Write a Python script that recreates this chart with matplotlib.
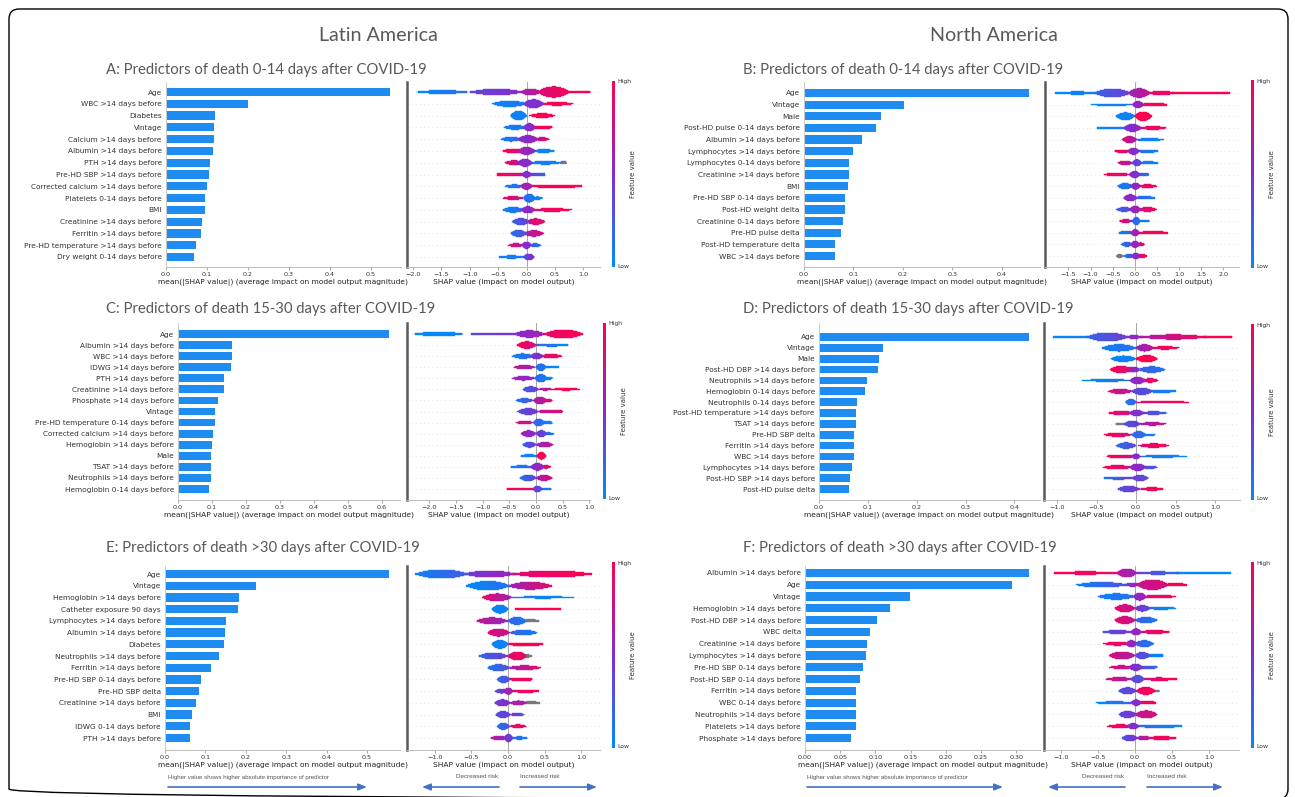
import numpy as np
import matplotlib
matplotlib.use("Agg")
import matplotlib.pyplot as plt
from matplotlib.colors import LinearSegmentedColormap
from matplotlib.collections import PolyCollection
from matplotlib.patches import FancyBboxPatch

# ---------------------------------------------------------------- data
# Mean |SHAP| importance per predictor, top to bottom.
A_features = ["Age", "WBC >14 days before", "Diabetes", "Vintage", "Calcium >14 days before",
              "Albumin >14 days before", "PTH >14 days before", "Pre-HD SBP >14 days before",
              "Corrected calcium >14 days before", "Platelets 0-14 days before", "BMI",
              "Creatinine >14 days before", "Ferritin >14 days before",
              "Pre-HD temperature >14 days before", "Dry weight 0-14 days before"]
A_importance = [0.546, 0.200, 0.120, 0.117, 0.117, 0.115, 0.107, 0.105, 0.099, 0.095, 0.095,
                0.087, 0.085, 0.073, 0.069]

B_features = ["Age", "Vintage", "Male", "Post-HD pulse 0-14 days before", "Albumin >14 days before",
              "Lymphocytes >14 days before", "Lymphocytes 0-14 days before",
              "Creatinine >14 days before", "BMI", "Pre-HD SBP 0-14 days before",
              "Post-HD weight delta", "Creatinine 0-14 days before", "Pre-HD pulse delta",
              "Post-HD temperature delta", "WBC >14 days before"]
B_importance = [0.455, 0.203, 0.155, 0.146, 0.118, 0.100, 0.092, 0.092, 0.090, 0.082, 0.082,
                0.079, 0.074, 0.063, 0.062]

C_features = ["Age", "Albumin >14 days before", "WBC >14 days before", "IDWG >14 days before",
              "PTH >14 days before", "Creatinine >14 days before", "Phosphate >14 days before",
              "Vintage", "Pre-HD temperature 0-14 days before", "Corrected calcium >14 days before",
              "Hemoglobin >14 days before", "Male", "TSAT >14 days before",
              "Neutrophils >14 days before", "Hemoglobin 0-14 days before"]
C_importance = [0.623, 0.160, 0.160, 0.156, 0.137, 0.135, 0.119, 0.110, 0.109, 0.103, 0.100,
                0.098, 0.096, 0.096, 0.090]

D_features = ["Age", "Vintage", "Male", "Post-HD DBP >14 days before", "Neutrophils >14 days before",
              "Hemoglobin 0-14 days before", "Neutrophils 0-14 days before",
              "Post-HD temperature >14 days before", "TSAT >14 days before", "Pre-HD SBP delta",
              "Ferritin >14 days before", "WBC >14 days before", "Lymphocytes >14 days before",
              "Post-HD SBP >14 days before", "Post-HD pulse delta"]
D_importance = [0.431, 0.131, 0.123, 0.121, 0.098, 0.094, 0.077, 0.075, 0.075, 0.072, 0.071,
                0.071, 0.067, 0.063, 0.061]

E_features = ["Age", "Vintage", "Hemoglobin >14 days before", "Catheter exposure 90 days",
              "Lymphocytes >14 days before", "Albumin >14 days before", "Diabetes",
              "Neutrophils >14 days before", "Ferritin >14 days before",
              "Pre-HD SBP 0-14 days before", "Pre-HD SBP delta", "Creatinine >14 days before",
              "BMI", "IDWG 0-14 days before", "PTH >14 days before"]
E_importance = [0.554, 0.225, 0.182, 0.181, 0.150, 0.148, 0.145, 0.134, 0.115, 0.089, 0.084,
                0.077, 0.066, 0.063, 0.061]

F_features = ["Albumin >14 days before", "Age", "Vintage", "Hemoglobin >14 days before",
              "Post-HD DBP >14 days before", "WBC delta", "Creatinine >14 days before",
              "Lymphocytes >14 days before", "Pre-HD SBP 0-14 days before",
              "Post-HD SBP 0-14 days before", "Ferritin >14 days before", "WBC 0-14 days before",
              "Neutrophils >14 days before", "Platelets >14 days before", "Phosphate >14 days before"]
F_importance = [0.318, 0.294, 0.149, 0.121, 0.103, 0.093, 0.088, 0.087, 0.082, 0.078, 0.072,
                0.072, 0.072, 0.072, 0.066]

# SHAP value distributions, one row per predictor: clusters of
# (shap_from, shap_to, feature_value_from, feature_value_to, density)
# feature value runs 0 (low) .. 1 (high); -1 marks missing values.
A_swarm = [
    [(-1.95, -1.0, 0.0, 0.15, 0.12), (-1.0, -0.05, 0.35, 0.5, 0.2), (-0.1, 0.25, 0.6, 0.75, 0.22), (0.2, 0.75, 0.85, 0.95, 0.35), (0.7, 1.12, 1.0, 1.0, 0.08)],
    [(-0.6, 0.0, 0.05, 0.1, 0.2), (-0.05, 0.3, 0.45, 0.5, 0.28), (0.25, 0.82, 0.95, 1.0, 0.12)],
    [(-0.28, 0.0, 0.05, 0.05, 0.3), (0.05, 0.5, 1.0, 1.0, 0.15)],
    [(-0.4, 0.0, 0.05, 0.15, 0.15), (-0.05, 0.15, 0.45, 0.55, 0.25), (0.12, 0.45, 0.9, 1.0, 0.1)],
    [(-0.45, -0.1, 0.05, 0.2, 0.15), (-0.15, 0.2, 0.45, 0.6, 0.25), (0.15, 0.4, 0.7, 0.9, 0.12)],
    [(-0.42, -0.05, 1.0, 0.85, 0.15), (-0.15, 0.15, 0.65, 0.5, 0.25), (0.1, 0.5, 0.1, 0.0, 0.12)],
    [(-0.38, -0.05, 0.9, 0.7, 0.15), (-0.15, 0.1, 0.55, 0.45, 0.25), (0.05, 0.62, 0.1, 0.05, 0.12), (0.6, 0.7, -1, -1, 0.1)],
    [(-0.52, -0.05, 1.0, 0.8, 0.1), (-0.08, 0.08, 0.5, 0.5, 0.2), (0.05, 0.32, 0.4, 0.2, 0.1)],
    [(-0.38, -0.05, 0.05, 0.2, 0.12), (-0.1, 0.1, 0.6, 0.6, 0.22), (0.08, 0.97, 0.95, 1.0, 0.1)],
    [(-0.42, -0.05, 0.95, 0.7, 0.12), (-0.05, 0.15, 0.15, 0.1, 0.28), (0.1, 0.28, 0.05, 0.0, 0.1)],
    [(-0.42, -0.05, 0.05, 0.15, 0.18), (-0.1, 0.15, 0.5, 0.55, 0.22), (0.1, 0.8, 0.9, 1.0, 0.12)],
    [(-0.25, 0.05, 0.2, 0.4, 0.22), (0.0, 0.32, 0.8, 0.9, 0.2)],
    [(-0.28, 0.0, 0.15, 0.3, 0.22), (-0.05, 0.3, 0.6, 0.85, 0.2)],
    [(-0.32, -0.05, 0.9, 0.7, 0.12), (-0.08, 0.08, 0.5, 0.5, 0.22), (0.05, 0.25, 0.3, 0.1, 0.12)],
    [(-0.48, -0.05, 0.05, 0.1, 0.1), (-0.05, 0.13, 0.3, 0.5, 0.22)],
]

B_swarm = [
    [(-1.8, -0.8, 0.0, 0.1, 0.1), (-0.9, -0.1, 0.2, 0.4, 0.28), (-0.15, 0.35, 0.55, 0.75, 0.3), (0.3, 0.9, 0.9, 0.95, 0.15), (0.85, 2.15, 1.0, 1.0, 0.07)],
    [(-1.0, -0.05, 0.0, 0.1, 0.07), (-0.05, 0.2, 0.5, 0.6, 0.22), (0.15, 0.72, 0.9, 1.0, 0.1)],
    [(-0.42, 0.0, 0.05, 0.05, 0.25), (0.0, 0.38, 1.0, 1.0, 0.3)],
    [(-0.85, -0.1, 0.0, 0.15, 0.08), (-0.25, 0.15, 0.4, 0.6, 0.25), (0.1, 0.72, 0.85, 1.0, 0.12)],
    [(-0.28, 0.05, 0.85, 0.65, 0.22), (0.0, 0.66, 0.1, 0.0, 0.08)],
    [(-0.45, -0.1, 1.0, 0.85, 0.1), (-0.15, 0.1, 0.55, 0.5, 0.22), (0.05, 0.52, 0.2, 0.05, 0.1)],
    [(-0.38, -0.05, 0.8, 0.7, 0.15), (-0.05, 0.15, 0.4, 0.35, 0.22), (0.1, 0.52, 0.1, 0.05, 0.1)],
    [(-0.7, -0.1, 1.0, 0.85, 0.12), (-0.12, 0.12, 0.5, 0.45, 0.22), (0.08, 0.32, 0.3, 0.1, 0.1)],
    [(-0.38, -0.05, 0.05, 0.15, 0.2), (-0.08, 0.12, 0.5, 0.6, 0.22), (0.08, 0.5, 0.85, 1.0, 0.12)],
    [(-0.25, 0.05, 0.55, 0.5, 0.22), (0.0, 0.45, 0.25, 0.05, 0.1)],
    [(-0.42, -0.05, 0.2, 0.35, 0.15), (-0.1, 0.12, 0.55, 0.6, 0.25), (0.08, 0.5, 0.8, 0.95, 0.15)],
    [(-0.35, -0.05, 0.95, 0.7, 0.12), (-0.05, 0.12, 0.2, 0.15, 0.25), (0.08, 0.33, 0.15, 0.05, 0.08)],
    [(-0.35, -0.05, 0.05, 0.2, 0.1), (-0.08, 0.1, 0.55, 0.65, 0.22), (0.08, 0.75, 0.9, 1.0, 0.1)],
    [(-0.3, -0.05, 0.1, 0.3, 0.15), (-0.08, 0.1, 0.5, 0.6, 0.22), (0.05, 0.22, 0.8, 0.9, 0.12)],
    [(-0.42, -0.26, -1, -1, 0.12), (-0.25, 0.0, 0.1, 0.3, 0.12), (-0.05, 0.1, 0.5, 0.55, 0.22), (0.05, 0.28, 0.8, 0.95, 0.12)],
]

C_swarm = [
    [(-2.3, -1.35, 0.0, 0.05, 0.15), (-1.22, -0.3, 0.35, 0.45, 0.1), (-0.4, 0.15, 0.5, 0.6, 0.25), (0.15, 0.88, 0.9, 1.0, 0.3)],
    [(-0.35, 0.0, 1.0, 0.8, 0.25), (-0.02, 0.6, 0.2, 0.0, 0.1)],
    [(-0.45, -0.05, 0.05, 0.2, 0.18), (-0.1, 0.12, 0.4, 0.5, 0.22), (0.08, 0.48, 0.8, 1.0, 0.15)],
    [(-0.42, -0.02, 0.75, 0.6, 0.15), (0.0, 0.18, 0.15, 0.1, 0.25), (0.12, 0.42, 0.05, 0.0, 0.08)],
    [(-0.45, -0.02, 0.6, 0.5, 0.15), (-0.02, 0.2, 0.15, 0.1, 0.28), (0.15, 0.3, 0.05, 0.0, 0.1)],
    [(-0.25, 0.05, 0.25, 0.4, 0.2), (0.05, 0.3, 0.6, 0.8, 0.08), (0.3, 0.82, 1.0, 1.0, 0.08)],
    [(-0.38, -0.05, 0.1, 0.3, 0.15), (-0.05, 0.2, 0.6, 0.75, 0.25), (0.15, 0.3, 0.85, 0.95, 0.12)],
    [(-0.35, 0.05, 0.3, 0.45, 0.22), (0.05, 0.5, 0.7, 0.85, 0.1)],
    [(-0.38, -0.05, 0.85, 0.7, 0.12), (-0.05, 0.15, 0.2, 0.15, 0.25), (0.1, 0.3, 0.1, 0.05, 0.1)],
    [(-0.28, 0.0, 0.6, 0.5, 0.22), (0.0, 0.2, 0.45, 0.35, 0.22), (0.15, 0.33, 0.2, 0.1, 0.08)],
    [(-0.25, 0.0, 0.2, 0.4, 0.2), (0.0, 0.32, 0.55, 0.75, 0.18)],
    [(-0.28, 0.02, 0.05, 0.05, 0.1), (0.02, 0.18, 1.0, 1.0, 0.25)],
    [(-0.48, -0.05, 0.05, 0.2, 0.1), (-0.1, 0.15, 0.45, 0.6, 0.25), (0.1, 0.27, 0.8, 0.95, 0.12)],
    [(-0.3, 0.0, 0.15, 0.35, 0.22), (0.0, 0.3, 0.6, 0.85, 0.2)],
    [(-0.55, -0.02, 1.0, 0.85, 0.08), (-0.05, 0.1, 0.4, 0.35, 0.22), (0.05, 0.28, 0.2, 0.05, 0.1)],
]

D_swarm = [
    [(-1.05, -0.55, 0.0, 0.1, 0.08), (-0.62, -0.1, 0.2, 0.4, 0.3), (-0.15, 0.1, 0.5, 0.55, 0.12), (0.05, 0.9, 0.65, 0.95, 0.18), (0.85, 1.22, 1.0, 1.0, 0.06)],
    [(-0.43, 0.0, 0.05, 0.15, 0.25), (0.0, 0.22, 0.55, 0.7, 0.25), (0.18, 0.55, 0.9, 1.0, 0.12)],
    [(-0.32, 0.0, 0.05, 0.05, 0.22), (0.0, 0.27, 1.0, 1.0, 0.25)],
    [(-0.33, -0.05, 1.0, 0.8, 0.25), (-0.12, 0.05, 0.55, 0.5, 0.2), (0.03, 0.37, 0.25, 0.1, 0.22)],
    [(-0.68, -0.05, 0.0, 0.15, 0.08), (-0.08, 0.12, 0.5, 0.6, 0.25), (0.08, 0.28, 0.85, 0.95, 0.15)],
    [(-0.35, -0.05, 0.85, 0.7, 0.18), (-0.05, 0.2, 0.35, 0.3, 0.25), (0.15, 0.5, 0.15, 0.05, 0.1)],
    [(-0.13, 0.0, 0.1, 0.2, 0.22), (0.0, 0.67, 0.85, 1.0, 0.06)],
    [(-0.35, -0.02, 0.95, 0.75, 0.15), (-0.08, 0.1, 0.5, 0.45, 0.22), (0.05, 0.4, 0.4, 0.2, 0.12)],
    [(-0.25, -0.12, -1, -1, 0.08), (-0.15, 0.05, 0.3, 0.4, 0.22), (0.03, 0.38, 0.6, 0.8, 0.12)],
    [(-0.4, -0.05, 1.0, 0.8, 0.15), (-0.05, 0.12, 0.2, 0.15, 0.25), (0.08, 0.24, 0.1, 0.05, 0.08)],
    [(-0.25, 0.0, 0.15, 0.35, 0.22), (0.03, 0.42, 0.85, 1.0, 0.15)],
    [(-0.37, -0.02, 1.0, 0.8, 0.1), (-0.05, 0.05, 0.5, 0.5, 0.2), (0.02, 0.65, 0.15, 0.0, 0.08)],
    [(-0.42, -0.05, 1.0, 0.85, 0.15), (-0.08, 0.12, 0.55, 0.5, 0.25), (0.08, 0.27, 0.35, 0.25, 0.12)],
    [(-0.4, -0.05, 0.1, 0.4, 0.1), (-0.05, 0.15, 0.4, 0.35, 0.22)],
    [(-0.23, 0.05, 0.3, 0.45, 0.22), (0.05, 0.35, 0.85, 1.0, 0.12)],
]

E_swarm = [
    [(-1.27, -0.55, 0.05, 0.25, 0.28), (-0.6, 0.1, 0.4, 0.6, 0.22), (0.05, 1.15, 0.85, 1.0, 0.22)],
    [(-0.57, 0.02, 0.0, 0.15, 0.3), (0.0, 0.6, 0.55, 0.9, 0.25)],
    [(-0.35, 0.05, 0.9, 0.6, 0.25), (0.05, 0.9, 0.1, 0.0, 0.07)],
    [(-0.22, 0.0, 0.05, 0.05, 0.28), (0.1, 0.72, 1.0, 1.0, 0.08)],
    [(-0.43, 0.0, 0.75, 0.55, 0.22), (0.0, 0.25, 0.2, 0.1, 0.25), (0.2, 0.42, -1, -1, 0.1)],
    [(-0.28, 0.02, 0.85, 0.75, 0.25), (0.02, 0.4, 0.25, 0.05, 0.18)],
    [(-0.22, 0.0, 0.05, 0.05, 0.28), (0.0, 0.48, 1.0, 1.0, 0.1)],
    [(-0.4, 0.0, 0.2, 0.4, 0.22), (0.0, 0.25, 0.85, 0.95, 0.28), (0.2, 0.32, -1, -1, 0.1)],
    [(-0.28, 0.02, 0.1, 0.3, 0.22), (0.0, 0.45, 0.6, 0.9, 0.15)],
    [(-0.15, 0.03, 0.2, 0.3, 0.22), (0.03, 0.33, 0.9, 1.0, 0.1)],
    [(-0.18, 0.0, 0.3, 0.45, 0.15), (-0.05, 0.06, 0.6, 0.6, 0.22), (0.05, 0.42, 0.9, 1.0, 0.1)],
    [(-0.18, 0.03, 0.4, 0.5, 0.22), (0.03, 0.25, 0.6, 0.7, 0.15), (0.2, 0.43, -1, -1, 0.1)],
    [(-0.17, 0.03, 0.3, 0.4, 0.22), (0.03, 0.22, 0.45, 0.35, 0.12)],
    [(-0.15, 0.02, 0.1, 0.3, 0.22), (0.02, 0.25, 0.8, 1.0, 0.12)],
    [(-0.23, -0.02, 0.7, 0.55, 0.15), (-0.05, 0.06, 0.45, 0.4, 0.25), (0.05, 0.26, 0.2, 0.05, 0.1)],
]

F_swarm = [
    [(-1.1, -0.25, 1.0, 0.9, 0.1), (-0.25, 0.02, 0.7, 0.6, 0.28), (0.02, 0.6, 0.4, 0.15, 0.1), (0.55, 1.3, 0.05, 0.0, 0.06)],
    [(-0.8, -0.1, 0.05, 0.3, 0.17), (-0.15, 0.08, 0.45, 0.55, 0.12), (0.02, 0.45, 0.75, 0.85, 0.33), (0.4, 0.7, 0.95, 1.0, 0.1)],
    [(-0.5, 0.0, 0.05, 0.15, 0.2), (-0.02, 0.15, 0.5, 0.6, 0.25), (0.1, 0.55, 0.85, 1.0, 0.12)],
    [(-0.27, 0.0, 0.9, 0.75, 0.25), (0.0, 0.2, 0.45, 0.35, 0.2), (0.15, 0.55, 0.15, 0.0, 0.08)],
    [(-0.27, 0.0, 0.9, 0.75, 0.25), (0.0, 0.3, 0.25, 0.1, 0.2)],
    [(-0.45, -0.02, 0.3, 0.45, 0.12), (-0.05, 0.08, 0.55, 0.55, 0.22), (0.05, 0.48, 0.8, 1.0, 0.12)],
    [(-0.43, -0.05, 1.0, 0.85, 0.12), (-0.12, 0.02, 0.6, 0.55, 0.22), (0.0, 0.25, 0.25, 0.1, 0.22)],
    [(-0.35, 0.0, 0.85, 0.65, 0.25), (0.0, 0.2, 0.35, 0.3, 0.22), (0.15, 0.38, 0.1, 0.05, 0.1)],
    [(-0.35, -0.02, 0.9, 0.7, 0.12), (-0.08, 0.1, 0.5, 0.45, 0.22), (0.05, 0.3, 0.35, 0.2, 0.1)],
    [(-0.4, -0.02, 0.85, 0.65, 0.12), (-0.05, 0.12, 0.35, 0.3, 0.25), (0.08, 0.57, 0.8, 1.0, 0.1)],
    [(-0.22, 0.02, 0.3, 0.4, 0.22), (0.02, 0.27, 0.9, 1.0, 0.25), (0.2, 0.33, -1, -1, 0.08)],
    [(-0.53, -0.02, 0.0, 0.2, 0.08), (-0.05, 0.08, 0.5, 0.5, 0.2), (0.05, 0.28, 0.85, 1.0, 0.1)],
    [(-0.22, 0.02, 0.35, 0.45, 0.22), (0.0, 0.3, 0.7, 0.85, 0.25)],
    [(-0.38, -0.02, 1.0, 0.85, 0.12), (-0.1, 0.05, 0.5, 0.5, 0.2), (0.03, 0.63, 0.2, 0.0, 0.1)],
    [(-0.17, 0.03, 0.3, 0.45, 0.22), (0.03, 0.2, 0.6, 0.75, 0.15), (0.15, 0.57, 0.9, 1.0, 0.12)],
]

# ---------------------------------------------------------------- style
W, H = 1295, 797
DPI = 100
BAR = "#1E8CF0"
TXT = "#333333"
TITLE = "#595959"
ARROW = "#4472C4"
SWARM_SCALE = 1.35
shap_cmap = LinearSegmentedColormap.from_list(
    "shap_red_blue", [(0.0, 0.545, 0.983), (0.53, 0.17, 0.80), (1.0, 0.0, 0.318)])

fig = plt.figure(figsize=(W / DPI, H / DPI), dpi=DPI)
fig.patch.set_facecolor("white")


def px_rect(x0, x1, ytop, ybot):
    return [x0 / W, 1 - ybot / H, (x1 - x0) / W, (ybot - ytop) / H]


def row_limits(top, bot, first, last, n):
    s = (last - first) / (n - 1)
    return -(bot - last) / s, (n - 1) + (first - top) / s


def draw_bars(features, values, x0, x1, top, bot, first, last, ticks, fmt):
    n = len(features)
    ax = fig.add_axes(px_rect(x0, x1, top, bot))
    y = np.arange(n)[::-1]
    ax.barh(y, values, height=0.7, color=BAR, zorder=2)
    ax.set_yticks(y)
    ax.set_yticklabels(features, fontsize=5.3, color=TXT)
    ax.tick_params(axis="y", length=0, pad=3)
    ax.set_ylim(*row_limits(top, bot, first, last, n))
    ax.set_xticks(ticks)
    ax.set_xticklabels([fmt.format(t) for t in ticks], fontsize=4.6, color=TXT)
    ax.tick_params(axis="x", length=2, width=0.5, color="#888888", pad=1.5)
    ax.set_xlabel("mean(|SHAP value|) (average impact on model output magnitude)",
                  fontsize=5.4, color="#222222", labelpad=1.5)
    for s in ("top", "right"):
        ax.spines[s].set_visible(False)
    ax.spines["left"].set_color("#cccccc")
    ax.spines["bottom"].set_color("#bbbbbb")
    ax.spines["left"].set_linewidth(0.7)
    ax.spines["bottom"].set_linewidth(0.7)
    return ax


def draw_swarm(rows, x0, x1, top, bot, first, last, xlim, ticks, cb_x, cb_top, cb_bot):
    n = len(rows)
    ax = fig.add_axes(px_rect(x0, x1, top, bot))
    ax.set_xlim(*xlim)
    ax.set_ylim(*row_limits(top, bot, first, last, n))
    for i in range(n):
        ax.axhline(i, color="#cccccc", lw=0.5, dashes=(1, 5), zorder=0)
    ax.axvline(0, color="#999999", lw=0.6, zorder=1)
    polys, cols = [], []
    for i, blobs in enumerate(rows):
        yc = n - 1 - i
        for (a, b, c0, c1, h) in sorted(blobs, key=lambda z: z[4]):
            k = 60
            xs = np.linspace(a, b, k + 1)
            t = (np.arange(k) + 0.5) / k
            hh = h * SWARM_SCALE
            if h <= 0.1:
                prof = hh * (0.6 + 0.4 * np.sin(np.pi * t))
            else:
                prof = hh * np.maximum(np.sin(np.pi * t) ** 0.7, 0.22)
            for j in range(k):
                p = prof[j]
                polys.append([(xs[j], yc - p), (xs[j + 1], yc - p),
                              (xs[j + 1], yc + p), (xs[j], yc + p)])
                if c0 < 0:
                    cols.append((0.47, 0.47, 0.47, 1.0))
                else:
                    cols.append(shap_cmap(c0 + (c1 - c0) * t[j]))
    pc = PolyCollection(polys, facecolors=cols, edgecolors=cols, linewidths=0.25, zorder=3)
    ax.add_collection(pc)
    ax.set_yticks([])
    ax.set_xticks(ticks)
    ax.set_xticklabels(["{:.1f}".format(t).replace("-", "\u2212") for t in ticks],
                       fontsize=4.6, color=TXT)
    ax.tick_params(axis="x", length=2, width=0.5, color="#888888", pad=1.5)
    ax.set_xlabel("SHAP value (impact on model output)", fontsize=5.4, color="#222222",
                  labelpad=1.5)
    for s in ("top", "right"):
        ax.spines[s].set_visible(False)
    ax.spines["left"].set_color("#5a5a5a")
    ax.spines["left"].set_linewidth(1.8)
    ax.spines["bottom"].set_color("#bbbbbb")
    ax.spines["bottom"].set_linewidth(0.7)

    # feature-value colour bar
    cax = fig.add_axes(px_rect(cb_x - 1.3, cb_x + 1.3, cb_top, cb_bot))
    grad = np.linspace(1, 0, 256).reshape(-1, 1)
    cax.imshow(grad, aspect="auto", cmap=shap_cmap, extent=(0, 1, 0, 1))
    cax.set_axis_off()
    fig.text((cb_x + 4) / W, 1 - (cb_top + 1) / H, "High", fontsize=4.4, color=TXT,
             ha="left", va="center")
    fig.text((cb_x + 4) / W, 1 - (cb_bot - 1) / H, "Low", fontsize=4.4, color=TXT,
             ha="left", va="center")
    fig.text((cb_x + 20) / W, 1 - ((cb_top + cb_bot) / 2) / H, "Feature value", fontsize=5,
             color=TXT, rotation=90, ha="center", va="center")
    return ax


tick1 = [0.0, 0.1, 0.2, 0.3, 0.4, 0.5]
# Latin America, 0-14 days
draw_bars(A_features, A_importance, 166, 401, 82, 267, 92, 257, tick1, "{:.1f}")
draw_swarm(A_swarm, 407, 600, 82, 267, 92, 257, (-2.1, 1.29),
           [-2.0, -1.5, -1.0, -0.5, 0.0, 0.5, 1.0], 613, 81, 267)
# North America, 0-14 days
draw_bars(B_features, B_importance, 804, 1040, 82, 267, 93, 256, tick1[:5], "{:.1f}")
draw_swarm(B_swarm, 1045, 1239, 82, 267, 93, 256, (-2.03, 2.36),
           [-1.5, -1.0, -0.5, 0.0, 0.5, 1.0, 1.5, 2.0], 1252, 80, 268)
# Latin America, 15-30 days
draw_bars(C_features, C_importance, 178, 400, 323, 500, 334, 489,
          tick1 + [0.6], "{:.1f}")
draw_swarm(C_swarm, 407, 590, 323, 500, 334, 489, (-2.42, 1.01),
           [-2.0, -1.5, -1.0, -0.5, 0.0, 0.5, 1.0], 604, 323, 499)
# North America, 15-30 days
draw_bars(D_features, D_importance, 819, 1040, 323, 500, 337, 489, tick1[:5], "{:.1f}")
draw_swarm(D_swarm, 1044, 1240, 323, 500, 337, 489, (-1.165, 1.316),
           [-1.0, -0.5, 0.0, 0.5, 1.0], 1252, 324, 500)
# Latin America, >30 days
draw_bars(E_features, E_importance, 165, 400, 566, 750, 574, 738, tick1, "{:.1f}")
draw_swarm(E_swarm, 407, 600, 566, 750, 574, 738, (-1.38, 1.255),
           [-1.0, -0.5, 0.0, 0.5, 1.0], 613, 562, 748)
# North America, >30 days
draw_bars(F_features, F_importance, 805, 1040, 566, 750, 573, 738,
          [0.0, 0.05, 0.10, 0.15, 0.20, 0.25, 0.30], "{:.2f}")
draw_swarm(F_swarm, 1044, 1239, 566, 750, 573, 738, (-1.23, 1.405),
           [-1.0, -0.5, 0.0, 0.5, 1.0], 1252, 562, 748)

# ---------------------------------------------------------------- overlay: frame, headings, arrows
ov = fig.add_axes([0, 0, 1, 1])
ov.set_xlim(0, W)
ov.set_ylim(H, 0)
ov.set_axis_off()
ov.patch.set_alpha(0)

ov.add_patch(FancyBboxPatch((9, 9), 1279, 790, boxstyle="round,pad=0,rounding_size=10",
                            fill=False, ec="black", lw=1.0))

ov.text(378, 35, "Latin America", fontsize=14.2, color=TITLE, family="Lato",
        ha="center", va="center")
ov.text(994, 35, "North America", fontsize=14.2, color=TITLE, family="Lato",
        ha="center", va="center")

titles = [
    (106, 70, "A: Predictors of death 0-14 days after COVID-19"),
    (743, 70, "B: Predictors of death 0-14 days after COVID-19"),
    (106, 309, "C: Predictors of death 15-30 days after COVID-19"),
    (743, 309, "D: Predictors of death 15-30 days after COVID-19"),
    (106, 548, "E: Predictors of death >30 days after COVID-19"),
    (743, 548, "F: Predictors of death >30 days after COVID-19"),
]
for x, y, s in titles:
    ov.text(x, y, s, fontsize=10.7, color=TITLE, family="Lato", ha="left", va="center")


def arrow(xa, xb, y):
    ov.annotate("", xy=(xb, y), xytext=(xa, y),
                arrowprops=dict(arrowstyle="-|>,head_length=0.5,head_width=0.2",
                                color=ARROW, lw=1.2, shrinkA=0, shrinkB=0))


for bx, (dl, dr), (il, ir), (dc, ic) in [
        ((168, 367), (499, 422), (520, 597), (477, 540)),
        ((807, 1003), (1125, 1048), (1147, 1223), (1103, 1167))]:
    ov.text(bx[0], 777, "Higher value shows higher absolute importance of predictor",
            fontsize=4.4, color="#555555", family="Liberation Sans", ha="left", va="center")
    arrow(bx[0], bx[1], 787)
    ov.text(dc, 777, "Decreased risk", fontsize=4.6, color="#555555",
            family="Liberation Sans", ha="center", va="center")
    ov.text(ic, 777, "Increased risk", fontsize=4.6, color="#555555",
            family="Liberation Sans", ha="center", va="center")
    arrow(dl, dr, 787)
    arrow(il, ir, 787)

fig.savefig("out.png", dpi=DPI)
